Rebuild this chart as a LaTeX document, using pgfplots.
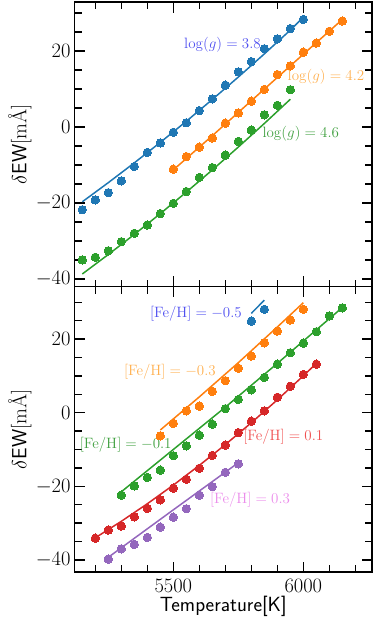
\RequirePackage{fix-cm}
\documentclass[border=0pt]{standalone}
\usepackage{pgfplots}
\pgfplotsset{compat=1.18}
\definecolor{tabblue}{HTML}{1F77B4}
\definecolor{taborange}{HTML}{FF7F0E}
\definecolor{tabgreen}{HTML}{2CA02C}
\definecolor{tabred}{HTML}{D62728}
\definecolor{tabpurple}{HTML}{9467BD}
\definecolor{lblblue}{RGB}{80,80,240}
\definecolor{lblorange}{RGB}{255,176,80}
\definecolor{lblgreen}{RGB}{64,160,64}
\definecolor{lblred}{RGB}{240,80,80}
\definecolor{lblviolet}{RGB}{235,140,235}
\newcommand{\bigfont}{\fontsize{20.5bp}{24bp}\selectfont}
\newcommand{\annfont}{\fontsize{15bp}{18bp}\selectfont}
\pgfplotsset{
  myax/.style={
    width=297.5bp, scale only axis,
    xmin=5120, xmax=6264,
    xtick={5500,6000},
    minor xtick={5200,5300,5400,5600,5700,5800,5900,6100,6200},
    ytick={-40,-20,0,20},
    minor ytick={-40,-35,...,30},
    /pgf/number format/1000 sep={},
    tick align=inside,
    xtick pos=both, ytick pos=both,
    major tick length=10.5bp, minor tick length=7bp,
    axis line style={line width=1.6bp},
    every tick/.style={line width=1.4bp, black},
    tick label style={font=\bigfont},
    yticklabel style={anchor=east, inner sep=0pt, xshift=-3.8bp},
    xticklabel style={anchor=north, inner sep=0pt, yshift=-7bp},
    every axis y label/.style={at={(axis description cs:0,0.5)}, xshift=-54.5bp, rotate=90, anchor=center, font=\bigfont},
    every axis x label/.style={at={(axis description cs:0.5,0)}, anchor=base, yshift=-39.5bp, font=\bigfont},
    ylabel={$\delta$\textsf{EW}[mÅ]},
  },
  pts/.style={only marks, color=#1, mark=*, mark size=4.2bp, mark options={solid, draw=#1, fill=#1, line width=0pt}},
  fit/.style={no marks, line width=1.5bp, color=#1},
}
\begin{document}
\begin{tikzpicture}
\useasboundingbox (0,0) rectangle (374bp,-622bp);
\begin{axis}[myax, name=top, at={(74.5bp,-2bp)}, anchor=north west,
  height=284.5bp, ymin=-42.0, ymax=32.9, xticklabels={}]
% log g = 3.8
\addplot[fit=tabblue] coordinates {(5150,-19.7) (5250,-14.66) (5350,-9.45) (5450,-4.06) (5550,1.50) (5650,7.24) (5750,13.15) (5850,19.24) (5950,25.50) (6000,28.9)};
\addplot[pts=tabblue] coordinates {(5150,-21.8) (5200,-19.2) (5250,-17.3) (5300,-14.2) (5350,-10.4) (5400,-6.7) (5450,-4.2) (5500,-1.4) (5550,1.1) (5600,4.3) (5650,7.4) (5700,11.0) (5750,14.5) (5800,17.2) (5850,20.6) (5900,23.2) (5950,25.9) (6000,28.3)};
% log g = 4.2
\addplot[fit=taborange] coordinates {(5500,-11.3) (5650,-2.3) (5800,6.9) (5950,16.1) (6050,22.2) (6150,28.3)};
\addplot[pts=taborange] coordinates {(5500,-11.1) (5550,-7.8) (5600,-5.3) (5650,-2.9) (5700,1.0) (5750,3.7) (5800,6.8) (5850,9.9) (5900,13.8) (5950,16.1) (6000,19.7) (6050,22.1) (6100,25.2) (6150,27.9)};
% log g = 4.6
\addplot[fit=tabgreen] coordinates {(5150,-38.7) (5250,-33.58) (5350,-28.29) (5450,-22.81) (5550,-17.15) (5650,-11.31) (5750,-5.28) (5850,0.92) (5950,7.3)};
\addplot[pts=tabgreen] coordinates {(5150,-35.0) (5200,-34.3) (5250,-32.6) (5300,-30.2) (5350,-28.0) (5400,-25.8) (5450,-22.8) (5500,-20.1) (5550,-17.0) (5600,-13.3) (5650,-10.7) (5700,-7.4) (5750,-3.8) (5800,-0.8) (5850,3.2) (5900,5.7) (5950,9.8)};
\node[font=\annfont, text=lblblue] at (axis cs:5689,21.6) {$\log(g) = 3.8$};
\node[font=\annfont, text=lblorange] at (axis cs:6087,13.2) {$\log(g) = 4.2$};
\node[font=\annfont, text=lblgreen] at (axis cs:5990,-1.8) {$\log(g) = 4.6$};
\end{axis}
\begin{axis}[myax, name=bot, at={(top.south west)}, anchor=north west,
  height=285.5bp, ymin=-43.3, ymax=34.3, xlabel={\textsf{Temperature[K]}}]
% -0.5
\addplot[fit=tabblue] coordinates {(5800,27.0) (5850,30.6)};
\addplot[pts=tabblue] coordinates {(5800,24.9) (5850,28.1)};
% -0.3
\addplot[fit=taborange] coordinates {(5450,-4.7) (5600,4.3) (5750,13.6) (5900,23.3) (6000,29.9)};
\addplot[pts=taborange] coordinates {(5450,-6.3) (5500,-2.9) (5550,0.5) (5600,1.8) (5650,5.8) (5700,8.7) (5750,12.1) (5800,15.4) (5850,19.0) (5900,22.2) (5950,25.2) (6000,28.1)};
% -0.1
\addplot[fit=tabgreen] coordinates {(5300,-21.5) (5500,-10.0) (5700,1.5) (5900,13.4) (6150,28.6)};
\addplot[pts=tabgreen] coordinates {(5300,-22.4) (5350,-19.9) (5400,-17.6) (5450,-15.6) (5500,-11.7) (5550,-9.0) (5600,-6.1) (5650,-3.1) (5700,1.1) (5750,3.6) (5800,6.2) (5850,9.6) (5900,13.2) (5950,16.3) (6000,18.9) (6050,22.0) (6100,26.3) (6150,28.5)};
% 0.1
\addplot[fit=tabred] coordinates {(5200,-34.0) (5300,-29.52) (5400,-24.75) (5500,-19.68) (5600,-14.32) (5700,-8.67) (5800,-2.73) (5900,3.50) (6000,10.03) (6050,13.4)};
\addplot[pts=tabred] coordinates {(5200,-34.1) (5250,-31.9) (5300,-30.8) (5350,-28.3) (5400,-26.0) (5450,-23.7) (5500,-20.5) (5550,-18.1) (5600,-15.1) (5650,-11.6) (5700,-8.8) (5750,-5.4) (5800,-2.3) (5850,0.5) (5900,4.2) (5950,7.2) (6000,10.4) (6050,13.2)};
% 0.3
\addplot[fit=tabpurple] coordinates {(5250,-39.3) (5500,-26.4) (5750,-13.6)};
\addplot[pts=tabpurple] coordinates {(5250,-39.8) (5300,-37.0) (5350,-35.8) (5400,-33.9) (5450,-31.1) (5500,-28.4) (5550,-26.1) (5600,-22.4) (5650,-20.1) (5700,-16.2) (5750,-13.9)};
\node[font=\annfont, text=lblblue] at (axis cs:5587,26.8) {$[\mathrm{Fe/H}] = -0.5$};
\node[font=\annfont, text=lblorange] at (axis cs:5487,11.1) {$[\mathrm{Fe/H}] = -0.3$};
\node[font=\annfont, text=lblgreen] at (axis cs:5317,-8.8) {$[\mathrm{Fe/H}] = -0.1$};
\node[font=\annfont, text=lblred] at (axis cs:5923,-6.6) {$[\mathrm{Fe/H}] = 0.1$};
\node[font=\annfont, text=lblviolet] at (axis cs:5795,-23.7) {$[\mathrm{Fe/H}] = 0.3$};
\end{axis}
\end{tikzpicture}
\end{document}
